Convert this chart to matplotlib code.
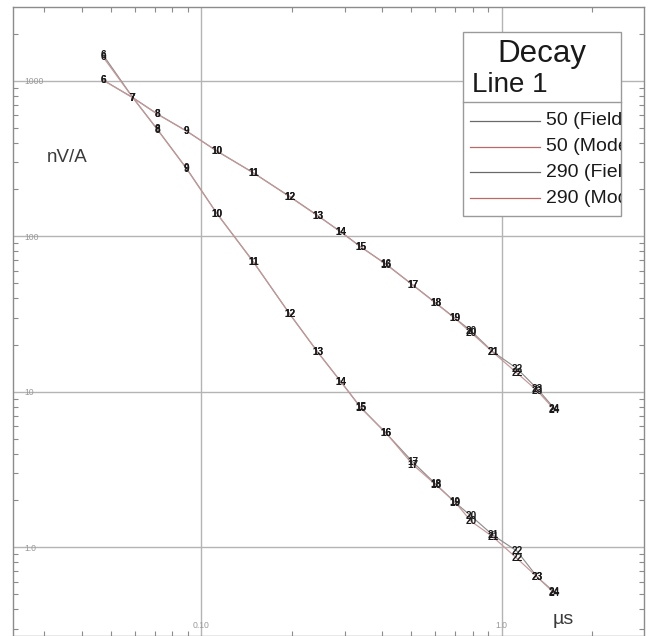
import matplotlib
matplotlib.use("Agg")
import matplotlib.pyplot as plt
from matplotlib.ticker import FixedLocator, FixedFormatter, LogLocator, NullFormatter
from matplotlib.patches import Rectangle
from matplotlib.lines import Line2D

plt.rcParams['font.family'] = ['Liberation Sans', 'DejaVu Sans']

# ---------------- data ----------------
gates = [6, 7, 8, 9, 10, 11, 12, 13, 14, 15, 16, 17, 18, 19, 20, 21, 22, 23, 24]
times_us = [0.0471, 0.0592, 0.0714, 0.0893, 0.1127, 0.1489, 0.1971, 0.2446, 0.2926,
            0.3393, 0.4129, 0.5061, 0.6022, 0.6999, 0.7910, 0.9334, 1.125, 1.317, 1.497]

field_50 = [1465, 778, 487, 273, 140, 68.5, 31.6, 17.9, 11.5, 7.94, 5.40, 3.53, 2.56,
            1.94, 1.59, 1.20, 0.945, 0.64, 0.515]
model_50 = [1420, 776, 485, 272, 140, 68.8, 31.5, 17.9, 11.5, 7.90, 5.40, 3.40, 2.53,
            1.95, 1.47, 1.17, 0.848, 0.64, 0.508]
field_290 = [1010, 778, 611, 475, 353, 256, 180, 135.5, 106, 85.6, 66.0, 48.6, 37.4,
             29.7, 24.6, 18.1, 14.1, 10.4, 7.80]
model_290 = [1008, 776, 610, 474, 353, 256, 179, 135.0, 106, 85.4, 65.8, 48.5, 37.2,
             29.6, 24.0, 18.0, 13.2, 10.1, 7.68]

series_labels = ["50 (Field)", "50 (Model)", "290 (Field)", "290 (Model)"]
x_tick_values = [0.1, 1.0]
x_tick_labels = ["0.10", "1.0"]
y_tick_values = [1.0, 10, 100, 1000]
y_tick_labels = ["1.0", "10", "100", "1000"]
legend_title = "Decay"
legend_subtitle = "Line 1"
x_label = "\u00b5s"
y_label = "nV/A"

# ---------------- styles ----------------
FIELD_COLOR = "#8e8e8e"
MODEL_COLOR = "#c89696"
LEGEND_FIELD_COLOR = "#6a6a6a"
LEGEND_MODEL_COLOR = "#b86a6a"
series = [
    (field_50, FIELD_COLOR, LEGEND_FIELD_COLOR),
    (model_50, MODEL_COLOR, LEGEND_MODEL_COLOR),
    (field_290, FIELD_COLOR, LEGEND_FIELD_COLOR),
    (model_290, MODEL_COLOR, LEGEND_MODEL_COLOR),
]

W, H = 648, 636
fig = plt.figure(figsize=(W / 100, H / 100), dpi=100)
fig.patch.set_facecolor("white")
ax = fig.add_axes([13 / W, 0.0, 631 / W, 628.7 / H])
ax.set_xscale("log")
ax.set_yscale("log")
ax.set_xlim(0.02361, 2.977)
ax.set_ylim(0.269, 2965)

for vals, col, _ in series:
    ax.plot(times_us, vals, color=col, lw=0.85, zorder=2)
for vals, col, _ in series:
    for t, v, g in zip(times_us, vals, gates):
        ax.text(t, v, str(g), ha="center", va="center", fontsize=7.2,
                fontweight="bold", color="#1a1a1a", zorder=3)

# ---------------- axes styling ----------------
ax.set_axisbelow(True)
ax.grid(which="major", color="#b4b4b4", lw=1.0)
for sp in ax.spines.values():
    sp.set_color("#8c8c8c")
    sp.set_linewidth(1.0)

ax.xaxis.set_major_locator(FixedLocator(x_tick_values))
ax.xaxis.set_major_formatter(FixedFormatter(x_tick_labels))
ax.yaxis.set_major_locator(FixedLocator(y_tick_values))
ax.yaxis.set_major_formatter(FixedFormatter(y_tick_labels))
ax.xaxis.set_minor_locator(LogLocator(base=10, subs=range(2, 10), numticks=20))
ax.yaxis.set_minor_locator(LogLocator(base=10, subs=range(2, 10), numticks=20))
ax.xaxis.set_minor_formatter(NullFormatter())
ax.yaxis.set_minor_formatter(NullFormatter())

ax.tick_params(which="both", direction="in", top=True, right=True,
               color="#8c8c8c", labelcolor="#999999", labelsize=6.2)
ax.tick_params(which="minor", length=3.6, width=0.8)
ax.tick_params(which="major", length=0)
ax.tick_params(axis="y", which="major", pad=-8.4)
ax.tick_params(axis="x", which="major", pad=-7.9)
for lab in ax.get_yticklabels():
    lab.set_horizontalalignment("left")
for lab in ax.get_xticklabels():
    lab.set_verticalalignment("center")

ax.set_ylabel(y_label, rotation=0, fontsize=13.5, color="#3a3a3a",
              ha="center", va="center")
ax.yaxis.set_label_coords((67 - 13) / 631, (636 - 158) / 628.7)
ax.set_xlabel(x_label, fontsize=14, color="#3a3a3a", ha="center", va="center")
ax.xaxis.set_label_coords((563 - 13) / 631, (636 - 620) / 628.7)

# ---------------- legend box ----------------
def fx(px):
    return px / W


def fy(py):
    return 1 - py / H


bx0, bx1, by0, by1 = 462.7, 621.0, 32.3, 215.7
box = Rectangle((fx(bx0), fy(by1)), fx(bx1) - fx(bx0), fy(by0) - fy(by1),
                transform=fig.transFigure, facecolor="white",
                edgecolor="#9a9a9a", lw=1.0, zorder=5)
fig.add_artist(box)
fig.add_artist(Line2D([fx(bx0), fx(bx1)], [fy(102.3), fy(102.3)],
                      transform=fig.transFigure, color="#9a9a9a", lw=1.0, zorder=6))
fig.text(fx(541.7), fy(61.7), legend_title, ha="center", va="baseline",
         fontsize=22.5, color="#1a1a1a", zorder=6)
fig.text(fx(471.7), fy(92.3), legend_subtitle, ha="left", va="baseline",
         fontsize=20, color="#1a1a1a", zorder=6)

entry_y = [120.7, 146.6, 172.4, 198.3]
for (vals, col, lcol), lab, ey in zip(series, series_labels, entry_y):
    fig.add_artist(Line2D([fx(470), fx(540)], [fy(ey), fy(ey)],
                          transform=fig.transFigure, color=lcol, lw=0.9, zorder=6))
    t = fig.text(fx(546), fy(ey), lab, ha="left", va="center", fontsize=14,
                 color="#1a1a1a", zorder=6)
    t.set_clip_path(box)

fig.savefig("out.png", dpi=100, facecolor="white")
